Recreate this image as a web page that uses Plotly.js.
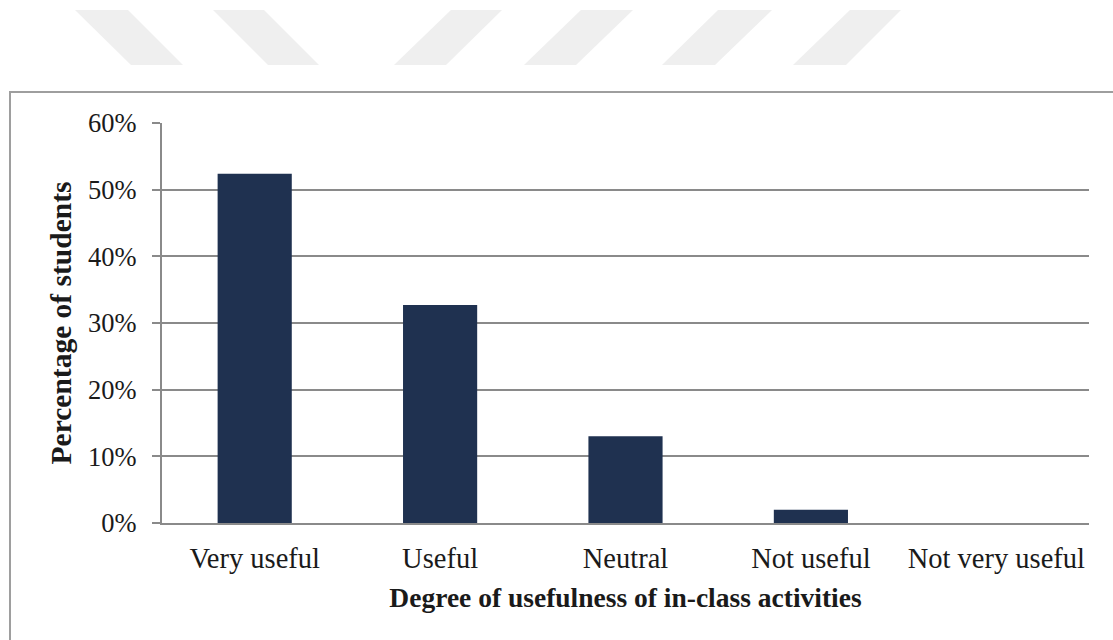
<!DOCTYPE html>
<html>
<head>
<meta charset="utf-8">
<script src="https://cdn.plot.ly/plotly-3.0.1.min.js"></script>
<style>
  html, body { margin: 0; padding: 0; background: #ffffff; }
  #chart { width: 1113px; height: 640px; }
</style>
</head>
<body>
<div id="chart"></div>
<script>
// ---- Data ----
const categories = ["Very useful", "Useful", "Neutral", "Not useful", "Not very useful"];
const percentages = [0.524, 0.327, 0.130, 0.020, 0.0];
const yTickValues = [0, 0.1, 0.2, 0.3, 0.4, 0.5, 0.6];
const yTickLabels = ["0%", "10%", "20%", "30%", "40%", "50%", "60%"];
const xTitle = "Degree of usefulness of in-class activities";
const yTitle = "Percentage of students";

// ---- Geometry helpers (pixel -> paper) ----
const W = 1113, H = 640;
const M = { l: 162, r: 24, t: 123, b: 117 };
const PW = W - M.l - M.r, PH = H - M.t - M.b;
const px = x => (x - M.l) / PW;
const py = y => (H - M.b - y) / PH;

function band(xTopL, xTopR, xBotR, xBotL, yTop, yBot) {
  return {
    type: "path", xref: "paper", yref: "paper", layer: "below",
    path: `M ${px(xTopL)},${py(yTop)} L ${px(xTopR)},${py(yTop)} L ${px(xBotR)},${py(yBot)} L ${px(xBotL)},${py(yBot)} Z`,
    fillcolor: "#efefef", line: { width: 0 }
  };
}

const shapes = [
  band(75, 128, 183, 131, 10, 65),
  band(213, 264, 319, 268, 10, 65),
  band(451, 502, 446, 394, 10, 65),
  band(581, 633, 576, 524, 10, 65),
  band(718, 772, 715, 662, 10, 65),
  band(850, 901, 846, 793, 10, 65),
  {
    type: "rect", xref: "paper", yref: "paper", layer: "below",
    x0: px(10), x1: px(1125), y0: py(652), y1: py(92),
    line: { color: "#9e9e9e", width: 2 }, fillcolor: "rgba(0,0,0,0)"
  }
];

const trace = {
  type: "bar",
  x: categories,
  y: percentages,
  marker: { color: "#1f3150", line: { width: 0 } },
  hoverinfo: "x+y"
};

const font = "'Liberation Serif', 'Times New Roman', serif";

const layout = {
  width: W, height: H,
  margin: M,
  paper_bgcolor: "#ffffff",
  plot_bgcolor: "#ffffff",
  showlegend: false,
  bargap: 0.6,
  font: { family: font, size: 26, color: "#1a1a1a" },
  xaxis: {
    type: "category",
    showline: true, linecolor: "#8a8a8a", linewidth: 2,
    ticks: "", showgrid: false,
    tickfont: { family: font, size: 28.5, color: "#1a1a1a" },
    ticklabelstandoff: 9,
    title: { text: xTitle, font: { family: font, size: 27.5, color: "#1a1a1a", weight: "bold" }, standoff: 15 },
    automargin: false,
    fixedrange: true
  },
  yaxis: {
    range: [0, 0.6],
    tickvals: yTickValues, ticktext: yTickLabels,
    showline: true, linecolor: "#8a8a8a", linewidth: 2,
    showgrid: true, gridcolor: "#8a8a8a", gridwidth: 2,
    zeroline: false,
    ticks: "outside", ticklen: 8, tickwidth: 2, tickcolor: "#8a8a8a",
    tickfont: { family: font, size: 26.5, color: "#1a1a1a" },
    ticklabelstandoff: 10,
    title: { text: yTitle, font: { family: font, size: 29.5, color: "#1a1a1a", weight: "bold" }, standoff: 8 },
    automargin: false,
    fixedrange: true
  },
  shapes: shapes
};

Plotly.newPlot("chart", [trace], layout, { displayModeBar: false, staticPlot: true });
</script>
</body>
</html>
